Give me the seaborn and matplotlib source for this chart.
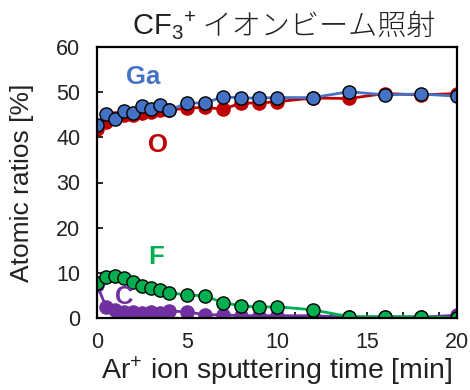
import matplotlib
matplotlib.use("Agg")
import matplotlib.pyplot as plt
import seaborn as sns
import numpy as np
from matplotlib.ticker import MultipleLocator

# sputtering time [min]
time_min = [0, 0.5, 1, 1.5, 2, 2.5, 3, 3.5, 4, 5, 6, 7, 8, 9, 10, 12, 14, 16, 18, 20]

# atomic ratios [%]
ga = [42.7, 45.2, 44.0, 45.9, 45.3, 46.9, 46.2, 47.1, 46.0, 47.6, 47.6, 49.0, 48.7, 48.7, 48.8, 48.8, 50.1, 49.4, 49.6, 49.1]
o = [41.8, 43.4, 44.3, 45.0, 44.9, 45.3, 45.6, 46.0, 46.1, 46.4, 46.7, 46.2, 47.6, 47.6, 47.9, 48.7, 48.6, 49.7, 49.4, 49.7]
f = [7.8, 9.1, 9.3, 8.8, 8.0, 7.1, 6.6, 6.2, 5.6, 5.1, 4.9, 3.4, 2.7, 2.4, 2.5, 1.8, 0.3, 0.3, 0.3, 0.0]
c = [7.3, 2.5, 1.8, 1.4, 1.3, 1.0, 1.3, 1.1, 1.5, 1.4, 0.7, 0.7, 0.5, 0.5, 0.5, 0.5, 0.2, 0.2, 0.2, 0.6]

col_ga = "#4472C4"
col_o = "#C00000"
col_f = "#00B050"
col_c = "#7030A0"

sns.set_theme(style="ticks")
plt.rcParams["font.family"] = ["Liberation Sans", "Noto Sans CJK JP", "DejaVu Sans"]
plt.rcParams["mathtext.fontset"] = "custom"
plt.rcParams["mathtext.rm"] = "Liberation Sans"
plt.rcParams["mathtext.default"] = "regular"

fig = plt.figure(figsize=(4.7, 3.9), dpi=100)
ax = fig.add_axes([97 / 470, 72 / 390, 360 / 470, 271 / 390])

# red / purple underneath, blue / green on top
sns.lineplot(x=time_min, y=o, ax=ax, color=col_o, linewidth=2, marker="o",
             markersize=10.5, markeredgecolor=col_o, markeredgewidth=0, zorder=2)
sns.lineplot(x=time_min, y=ga, ax=ax, color=col_ga, linewidth=2, marker="o",
             markersize=9.5, markeredgecolor="black", markeredgewidth=1, zorder=3)
sns.lineplot(x=time_min, y=c, ax=ax, color=col_c, linewidth=2, marker="o",
             markersize=10.5, markeredgecolor=col_c, markeredgewidth=0, zorder=2)
sns.lineplot(x=time_min, y=f, ax=ax, color=col_f, linewidth=2, marker="o",
             markersize=9.5, markeredgecolor="black", markeredgewidth=1, zorder=3)

ax.set_xlim(0, 20)
ax.set_ylim(0, 60)
ax.xaxis.set_major_locator(MultipleLocator(5))
ax.xaxis.set_minor_locator(MultipleLocator(1))
ax.yaxis.set_major_locator(MultipleLocator(10))
ax.tick_params(axis="both", which="both", direction="in", length=4, width=1.2,
               labelsize=15.5, pad=12, color="black", labelcolor="#222222")
ax.tick_params(axis="x", which="both", pad=10)
for sp in ax.spines.values():
    sp.set_linewidth(1.6)
    sp.set_color("black")
    sp.set_zorder(4)

ax.set_xlabel("Ar$^{+}$ ion sputtering time [min]", fontsize=20.5, color="#222222", labelpad=1)
ax.set_ylabel("Atomic ratios [%]", fontsize=19, color="#222222", labelpad=16)

lab = dict(fontsize=18.5, fontweight="bold", ha="center", va="center")
ax.text(2.56, 53.4, "Ga", color=col_ga, **lab)
ax.text(3.39, 38.3, "O", color=col_o, **lab)
ax.text(3.28, 13.6, "F", color=col_f, **lab)
ax.text(1.52, 4.6, "C", color=col_c, **lab)

t1 = fig.text(132 / 470, 1 - 35 / 390, "CF$_{3}{}^{+}$", fontsize=21, color="#222222",
              ha="left", va="baseline")
ax.annotate(" イオンビーム照射", xy=(1, 0), xycoords=t1, va="bottom", ha="left",
            fontsize=21, color="#222222", fontweight="light",
            family=["Noto Sans CJK JP", "DejaVu Sans"], annotation_clip=False)

fig.savefig("out.png", dpi=100)
